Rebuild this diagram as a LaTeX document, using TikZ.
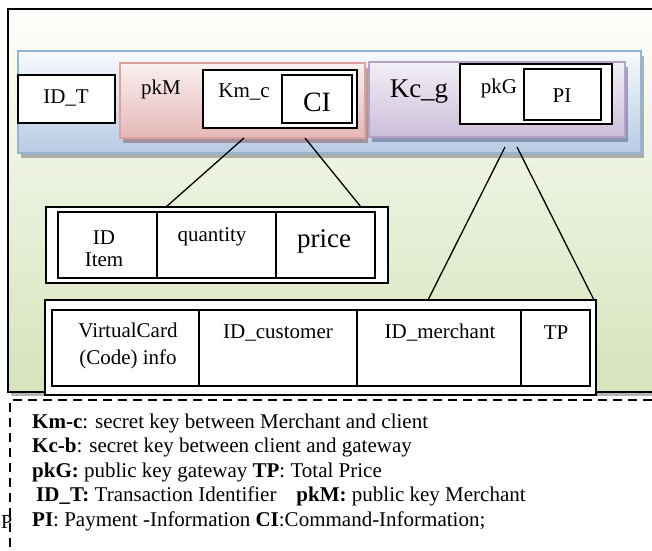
\documentclass[tikz,border=0pt]{standalone}
\usepackage{fontspec}
\setmainfont{Liberation Serif}
\usetikzlibrary{calc}
\definecolor{frameTop}{HTML}{FDFEFB}
\definecolor{frameBot}{HTML}{D6E3BB}
\definecolor{bandTop}{HTML}{F7F9FC}
\definecolor{bandBot}{HTML}{B7CBE3}
\definecolor{bandLine}{HTML}{95B3D7}
\definecolor{pinkTop}{HTML}{FAF0F0}
\definecolor{pinkBot}{HTML}{E5B7B6}
\definecolor{pinkLine}{HTML}{E0A09E}
\definecolor{purpTop}{HTML}{F2EFF6}
\definecolor{purpBot}{HTML}{CBBFD9}
\definecolor{purpLine}{HTML}{B3A2C7}
\definecolor{shadowGray}{HTML}{5A5A5A}
\begin{document}
\begin{tikzpicture}[x=1pt,y=-1pt,
  base/.style={inner sep=0, outer sep=0, anchor=north west},
  shadowbox/.style={base, fill=shadowGray, fill opacity=0.45, draw=none},
  whitebox/.style={base, draw, fill=white, line width=1.6pt},
  cellbox/.style={base, draw, line width=2pt},
  txt/.style={inner sep=0, font=\fontsize{21}{22}\selectfont},
  bigtxt/.style={inner sep=0, font=\fontsize{27}{30}\selectfont},
  legtxt/.style={inner sep=0, anchor=base west, font=\fontsize{21}{22}\selectfont},
  conn/.style={line width=1.3pt},
  dashline/.style={line width=2.2pt, dash pattern=on 9pt off 6pt}]
\useasboundingbox (0,0) rectangle (652,550);

% outer frame
\node[shadowbox, minimum width=652pt, minimum height=383pt] (frameshadow) at (11,13) {};
\node[base, draw, line width=2pt, top color=frameTop, bottom color=frameBot,
      minimum width=652pt, minimum height=383pt] (frame) at (8,9) {};

% blue band
\node[shadowbox, minimum width=623pt, minimum height=102pt] (bandshadow) at (21,56) {};
\node[base, draw=bandLine, line width=1.6pt, top color=bandTop, bottom color=bandBot,
      minimum width=623pt, minimum height=102pt] (band) at (18,51) {};

% ID_T
\node[whitebox, minimum width=97pt, minimum height=48pt] (idt) at (18,75) {};
\node[txt] (idttxt) at (66,98) {ID\_T};

% pink box
\node[shadowbox, fill=shadowGray!80!red, minimum width=245pt, minimum height=75pt] (pinkshadow) at (123,68) {};
\node[base, draw=pinkLine, line width=1.6pt, top color=pinkTop, bottom color=pinkBot,
      minimum width=245pt, minimum height=75pt] (pink) at (120,63) {};
\node[txt] (pkmtxt) at (161,89) {pkM};
\node[whitebox, minimum width=154pt, minimum height=58pt] (kmc) at (203,70) {};
\node[txt] (kmctxt) at (244,92) {Km\_c};
\node[whitebox, line width=2pt, minimum width=70pt, minimum height=48pt] (ci) at (282,75) {};
\node[bigtxt, font=\fontsize{28}{30}\selectfont] (citxt) at (317,102) {CI};

% purple box
\node[shadowbox, fill=shadowGray!80!blue, minimum width=256pt, minimum height=75pt] (purpshadow) at (372,67) {};
\node[base, draw=purpLine, line width=1.6pt, top color=purpTop, bottom color=purpBot,
      minimum width=256pt, minimum height=75pt] (purple) at (369,62) {};
\node[bigtxt] (kcgtxt) at (419,92) {Kc\_g};
\node[whitebox, minimum width=152pt, minimum height=60pt] (pkg) at (460,64) {};
\node[txt] (pkgtxt) at (499,88) {pkG};
\node[whitebox, line width=2pt, minimum width=77pt, minimum height=51pt] (pi) at (524,69) {};
\node[txt] (pitxt) at (562,96) {PI};

% item table
\node[whitebox, line width=1.4pt, minimum width=342pt, minimum height=76pt] (item) at (46,207) {};
\node[cellbox, minimum width=99pt, minimum height=66pt] (c1) at (58,212) {};
\node[cellbox, minimum width=119pt, minimum height=66pt] (c2) at (157,212) {};
\node[cellbox, minimum width=99pt, minimum height=66pt] (c3) at (276,212) {};
\node[txt, align=center, font=\fontsize{21}{22}\selectfont] (c1txt) at (104,249) {ID\\Item};
\node[txt] (c2txt) at (212,237) {quantity};
\node[bigtxt] (c3txt) at (324,241) {price};

% lower table
\node[whitebox, line width=1.4pt, minimum width=551pt, minimum height=95pt] (lower) at (45,300) {};
\node[cellbox, minimum width=147pt, minimum height=76pt] (d1) at (52,310) {};
\node[cellbox, minimum width=158pt, minimum height=76pt] (d2) at (199,310) {};
\node[cellbox, minimum width=164pt, minimum height=76pt] (d3) at (357,310) {};
\node[cellbox, minimum width=69pt, minimum height=76pt] (d4) at (521,310) {};
\node[txt, align=center, font=\fontsize{21}{27}\selectfont] (d1txt) at (128,346) {VirtualCard\\(Code) info};
\node[txt] (d2txt) at (278,333) {ID\_customer};
\node[txt] (d3txt) at (440,333) {ID\_merchant};
\node[txt] (d4txt) at (556,333) {TP};

% connectors
\draw[conn] ([xshift=124pt]pink.south west) -- ([xshift=120pt]item.north west);
\draw[conn] ([xshift=185pt]pink.south west) -- ([xshift=315pt]item.north west);
\draw[conn] ([xshift=136pt,yshift=-10pt]purple.south west) -- ([xshift=383pt]lower.north west);
\draw[conn] ([xshift=148pt,yshift=-10pt]purple.south west) -- ([xshift=-2pt]lower.north east);

% dashed legend frame
\coordinate (dR) at (652,400);
\coordinate (dC) at (10,400);
\coordinate (dB) at (10,550);
\draw[dashline] (dR) -- (dC) -- (dB);

% legend
\node[legtxt] (leg1) at (32,428) {\textbf{Km-c}: secret key between Merchant and client};
\node[legtxt] (leg2) at (32,452.5) {\textbf{Kc-b}: secret key between client and gateway};
\node[legtxt] (leg3) at (32,477) {\textbf{pkG:} public key gateway \textbf{TP}: Total Price};
\node[legtxt] (leg4) at (36,501.5) {\textbf{ID\_T:} Transaction Identifier\hspace{20pt}\textbf{pkM:} public key Merchant};
\node[legtxt] (leg5) at (32,526) {\textbf{PI}: Payment -Information \textbf{CI}:Command-Information;};
\node[legtxt, font=\fontsize{20}{22}\selectfont] (stray) at (1,528) {P};
\end{tikzpicture}
\end{document}
